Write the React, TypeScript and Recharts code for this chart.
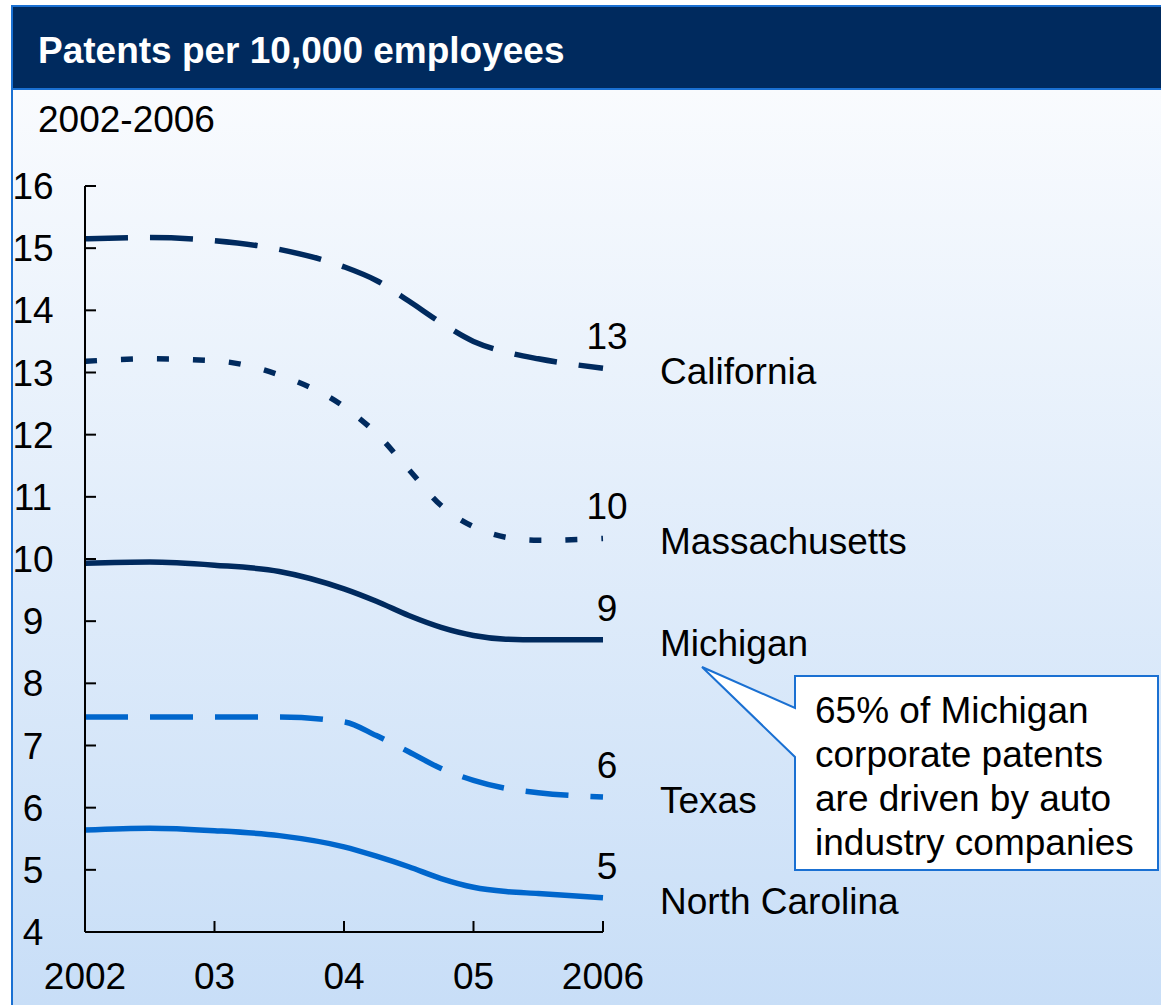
import { LineChart, Line, XAxis, YAxis } from 'recharts';

const YEARS = [2002, 2002.5, 2003, 2003.5, 2004, 2004.25, 2004.5, 2004.75, 2005, 2005.25, 2005.5, 2006];

const CALIFORNIA = [15.15, 15.17, 15.12, 14.98, 14.7, 14.48, 14.15, 13.8, 13.5, 13.33, 13.22, 13.07];
const MASSACHUSETTS = [13.18, 13.22, 13.19, 12.96, 12.45, 12.02, 11.44, 10.86, 10.52, 10.35, 10.3, 10.33];
const MICHIGAN = [9.93, 9.95, 9.9, 9.8, 9.52, 9.32, 9.09, 8.9, 8.77, 8.71, 8.7, 8.7];
const TEXAS = [7.46, 7.46, 7.46, 7.46, 7.38, 7.16, 6.9, 6.63, 6.44, 6.31, 6.24, 6.17];
const NORTH_CAROLINA = [5.64, 5.67, 5.63, 5.55, 5.37, 5.22, 5.05, 4.86, 4.72, 4.65, 4.62, 4.55];

const X_TICKS = [2002, 2003, 2004, 2005, 2006];
const X_TICK_LABELS = ['2002', '03', '04', '05', '2006'];
const Y_TICKS = [4, 5, 6, 7, 8, 9, 10, 11, 12, 13, 14, 15, 16];

const CALLOUT_LINES = ['65% of Michigan', 'corporate patents', 'are driven by auto', 'industry companies'];

const NAVY = '#002a5e';
const BLUE = '#0066cc';
const BORDER = '#1a70d2';
const FONT = "'Liberation Sans', Arial, Helvetica, sans-serif";
const FS = 37;

const SERIES = [
  { key: 'california', name: 'California', values: CALIFORNIA, color: NAVY, dash: '43 22' },
  { key: 'massachusetts', name: 'Massachusetts', values: MASSACHUSETTS, color: NAVY, dash: '12 24' },
  { key: 'michigan', name: 'Michigan', values: MICHIGAN, color: NAVY, dash: undefined },
  { key: 'texas', name: 'Texas', values: TEXAS, color: BLUE, dash: '43 22' },
  { key: 'northCarolina', name: 'North Carolina', values: NORTH_CAROLINA, color: BLUE, dash: undefined },
];

const data = YEARS.map((year, i) => {
  const row: Record<string, number> = { year };
  SERIES.forEach((s) => { row[s.key] = s.values[i]; });
  return row;
});

// end-of-line value + state name, drawn through the dot renderer of the last point
const endLabel = (key: string, name: string) => (props: any) => {
  const { cx, cy, index, payload } = props;
  if (index !== YEARS.length - 1) return <g key={`${key}-${index}`} />;
  return (
    <g key={`${key}-end`}>
      <text x={cx + 4} y={cy - 19} textAnchor="middle" fontSize={FS} fontFamily={FONT} fill="#000">
        {Math.round(payload[key])}
      </text>
      <text x={cx + 57} y={cy + 16} fontSize={FS} fontFamily={FONT} fill="#000">
        {name}
      </text>
    </g>
  );
};

const YTick = ({ x, y, payload }: any) => (
  <g>
    <line x1={x} x2={x + 11} y1={y} y2={y} stroke="#000" strokeWidth={2} />
    <text x={x - 52} y={y + 13} textAnchor="middle" fontSize={FS} fontFamily={FONT} fill="#000">
      {payload.value}
    </text>
  </g>
);

const XTick = ({ x, y, payload }: any) => (
  <g>
    <line x1={x} x2={x} y1={y} y2={y - 11} stroke="#000" strokeWidth={2} />
    <text x={x} y={y + 57} textAnchor="middle" fontSize={FS} fontFamily={FONT} fill="#000">
      {X_TICK_LABELS[X_TICKS.indexOf(payload.value)]}
    </text>
  </g>
);

export default function App() {
  return (
    <div style={{ position: 'absolute', left: 0, top: 0, width: 1161, height: 1005, background: '#fff', overflow: 'hidden' }}>
      <div
        style={{
          position: 'absolute', left: 11, top: 5, width: 1150, height: 85, boxSizing: 'border-box',
          background: NAVY, borderTop: `2px solid ${BORDER}`, borderLeft: `2px solid ${BORDER}`, borderBottom: `2px solid ${BORDER}`,
        }}
      />
      <div
        style={{
          position: 'absolute', left: 11, top: 90, width: 1150, height: 915, boxSizing: 'border-box',
          borderLeft: `2px solid ${BORDER}`, background: 'linear-gradient(to bottom, #f9fbfe 0%, #c8def7 100%)',
        }}
      />
      <div style={{ position: 'absolute', left: 0, top: 0 }}>
        <LineChart width={1161} height={1005} data={data} margin={{ top: 186, right: 558, bottom: 0, left: 25 }}>
          <XAxis
            dataKey="year"
            type="number"
            domain={[2002, 2006]}
            ticks={X_TICKS}
            height={73}
            tickSize={0}
            tickMargin={0}
            tickLine={false}
            axisLine={{ stroke: '#000', strokeWidth: 2 }}
            tick={<XTick />}
          />
          <YAxis
            type="number"
            domain={[4, 16]}
            ticks={Y_TICKS}
            width={60}
            tickSize={0}
            tickMargin={0}
            tickLine={false}
            axisLine={{ stroke: '#000', strokeWidth: 2 }}
            tick={<YTick />}
          />
          {SERIES.map((s) => (
            <Line
              key={s.key}
              type="monotone"
              dataKey={s.key}
              stroke={s.color}
              strokeWidth={5.5}
              strokeDasharray={s.dash}
              dot={endLabel(s.key, s.name)}
              activeDot={false}
              isAnimationActive={false}
            />
          ))}
        </LineChart>
      </div>
      <svg width={1161} height={1005} style={{ position: 'absolute', left: 0, top: 0, pointerEvents: 'none' }}>
        <text x={38} y={63} fontSize={FS} fontWeight="bold" fontFamily={FONT} fill="#fff">
          Patents per 10,000 employees
        </text>
        <text x={38} y={132} fontSize={FS} fontFamily={FONT} fill="#000">
          2002-2006
        </text>
        <path
          d="M795,676 H1158 V870 H795 V757 L702,667 L795,708 Z"
          fill="#fff"
          stroke={BORDER}
          strokeWidth={2}
        />
        {CALLOUT_LINES.map((line, i) => (
          <text key={line} x={815} y={723 + i * 44} fontSize={FS} fontFamily={FONT} fill="#000">
            {line}
          </text>
        ))}
      </svg>
    </div>
  );
}
